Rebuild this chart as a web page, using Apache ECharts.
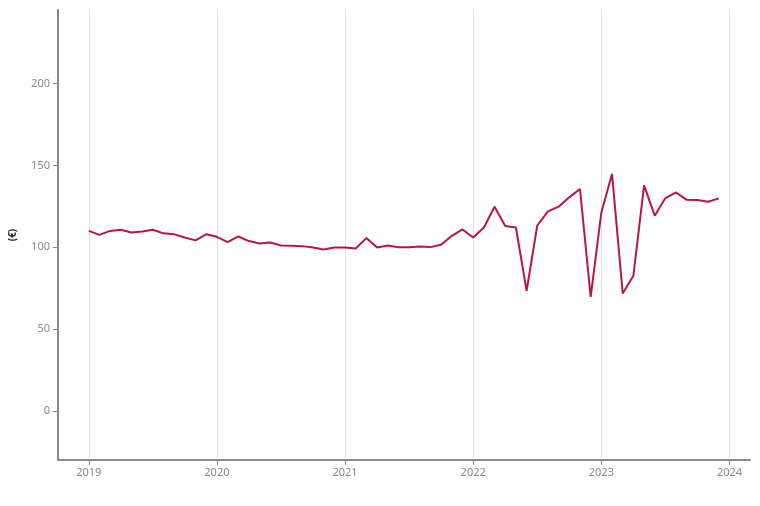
<!DOCTYPE html>
<html>
<head>
<meta charset="utf-8">
<script src="https://cdn.jsdelivr.net/npm/echarts@6/dist/echarts.min.js"></script>
<style>html,body{margin:0;padding:0;background:#fff}#c{width:760px;height:506px}</style>
</head>
<body>
<div id="c"></div>
<script>
const startYear = 2019;
const months = Array.from({length: 60}, (_, i) => `${startYear + Math.floor(i / 12)}-${String(i % 12 + 1).padStart(2, '0')}`);
const values = [
  110.0, 107.6, 110.0, 110.7, 109.0, 109.7, 110.7, 108.5, 107.9, 106.0, 104.2, 107.9,
  106.4, 103.2, 106.6, 103.8, 102.3, 102.9, 101.1, 100.9, 100.7, 99.9, 98.7, 99.9,
  99.9, 99.3, 105.6, 99.9, 101.1, 100.0, 100.0, 100.5, 100.1, 101.5, 107.0, 110.9,
  106.0, 112.1, 124.8, 113.0, 112.1, 73.4, 113.3, 121.9, 124.8, 130.5, 135.6, 69.7,
  121.3, 144.8, 71.8, 82.6, 137.8, 119.3, 130.1, 133.5, 129.0, 128.9, 127.8, 129.9
];
const xTicks = [2019, 2020, 2021, 2022, 2023, 2024];
const yTicks = [0, 50, 100, 150, 200];
const yName = '(€)';

const toYear = s => { const [y, m] = s.split('-').map(Number); return y + (m - 1) / 12; };
const data = months.map((m, i) => [toYear(m), values[i]]);

const chart = echarts.init(document.getElementById('c'), null, {renderer: 'canvas'});
const font = '"Noto Sans", sans-serif';
chart.setOption({
  animation: false,
  grid: {left: 58, right: 10, top: 10, bottom: 46, containLabel: false, outerBoundsMode: 'none'},
  xAxis: {
    type: 'value',
    min: 2018.76, max: 2024.16,
    axisLine: {show: true, onZero: false, lineStyle: {color: '#888', width: 2}},
    axisTick: {show: true, customValues: xTicks, length: 5, lineStyle: {color: '#888', width: 1}},
    axisLabel: {customValues: xTicks, color: '#888', fontSize: 11, fontFamily: font, margin: 7, formatter: v => String(Math.round(v))},
    splitLine: {show: true, lineStyle: {color: '#e2e2e2', width: 1}}
  },
  yAxis: {
    type: 'value',
    min: -30, max: 245,
    name: yName, nameLocation: 'middle', nameRotate: 90, nameGap: 40,
    nameTextStyle: {color: '#222', fontSize: 10, fontFamily: font, fontWeight: 'bold'},
    axisLine: {show: true, onZero: false, lineStyle: {color: '#888', width: 2}},
    axisTick: {show: true, customValues: yTicks, length: 5, lineStyle: {color: '#888', width: 1}},
    axisLabel: {customValues: yTicks, color: '#888', fontSize: 11, fontFamily: font, margin: 8},
    splitLine: {show: false}
  },
  series: [{
    type: 'line',
    data: data,
    symbol: 'none',
    lineStyle: {color: '#b5174b', width: 2},
    itemStyle: {color: '#b5174b'}
  }]
});
</script>
</body>
</html>
